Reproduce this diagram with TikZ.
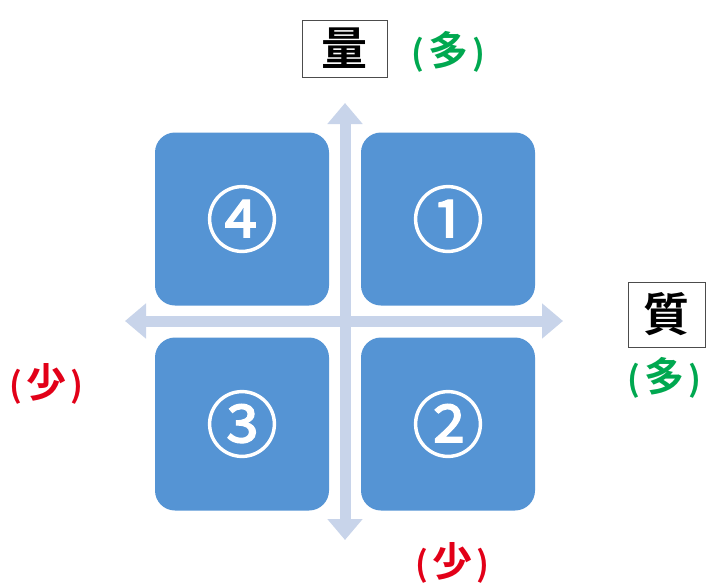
\documentclass[tikz,border=0pt]{standalone}
\usepackage{fontspec}
\newfontfamily\cjk{Noto Sans CJK JP}
\newfontfamily\cjkd[FakeBold=1.6]{Noto Sans CJK JP}
\newfontfamily\cjkb{Noto Sans CJK JP Bold}
\usetikzlibrary{arrows.meta}
\definecolor{boxblue}{RGB}{85,148,212}
\definecolor{axiscol}{RGB}{200,212,234}
\definecolor{lblgreen}{RGB}{0,168,80}
\definecolor{lblred}{RGB}{226,0,24}
\newcommand{\parlbl}[1]{{\fontsize{34}{34}\selectfont(}\kern4pt#1\kern4pt{\fontsize{34}{34}\selectfont)}}
\tikzset{
  quad/.style={fill=boxblue, rounded corners=20pt, minimum width=174pt, minimum height=173pt, inner sep=0pt, text=white, font=\cjkd\fontsize{72}{72}\selectfont},
  axis/.style={draw=axiscol, line width=11pt, arrows={Triangle[width=34pt,length=21pt]-Triangle[width=34pt,length=21pt]}},
  titlebox/.style={draw=black!70, line width=0.6pt, fill=white, inner sep=0pt, font=\cjkb\fontsize{46}{46}\selectfont},
  lbl/.style={inner sep=0pt, font=\cjkb\fontsize{40}{40}\selectfont}
}
\begin{document}
\begin{tikzpicture}[x=1pt,y=-1pt]
\useasboundingbox[fill=white] (0,0) rectangle (710,584);
\coordinate (top) at (345,103);
\coordinate (bot) at (345,540);
\coordinate (lft) at (125,321);
\coordinate (rgt) at (563,321);
\draw[axis] (bot) -- (top);
\draw[axis] (lft) -- (rgt);
\node[quad] (q4) at (242,219) {④};
\node[quad] (q1) at (448,219) {①};
\node[quad] (q3) at (242,424) {③};
\node[quad] (q2) at (448,424) {②};
\node[titlebox, minimum width=85pt, minimum height=57pt] (ryo) at (344.5,48.5) {量};
\node[titlebox, minimum width=77pt, minimum height=65pt] (shitsu) at (666.5,314.5) {質};
\node[lbl, text=lblgreen] (g1) at (448,52) {\parlbl{多}};
\node[lbl, text=lblgreen] (g2) at (664,378) {\parlbl{多}};
\node[lbl, text=lblred] (r1) at (46,384) {\parlbl{少}};
\node[lbl, text=lblred] (r2) at (452,563) {\parlbl{少}};
\end{tikzpicture}
\end{document}
